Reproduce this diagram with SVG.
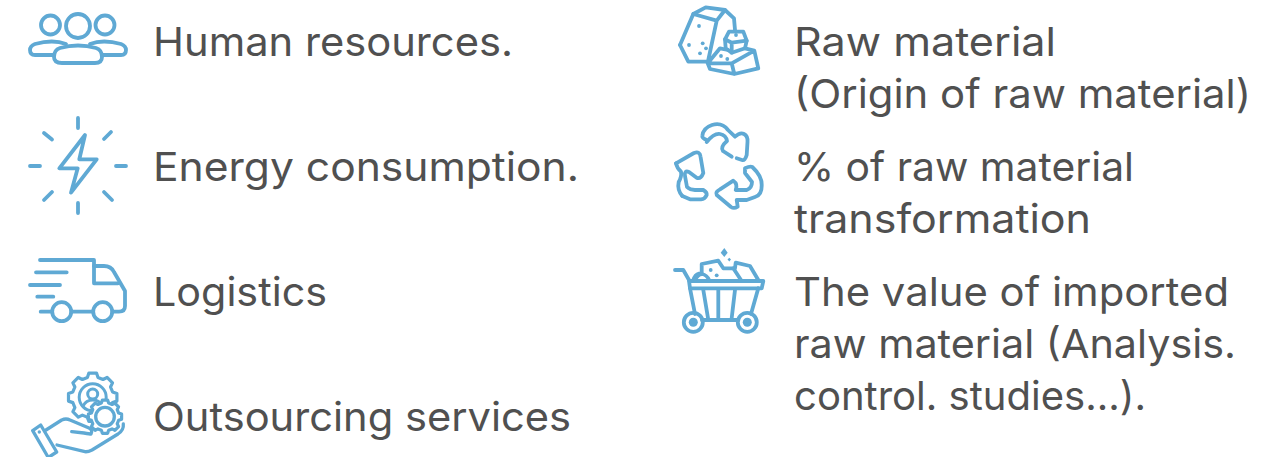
<svg xmlns="http://www.w3.org/2000/svg" width="1285" height="457" viewBox="0 0 1285 457">
<style>
text{font-family:"Inter","Noto Sans",sans-serif;font-size:40px;fill:#505050;font-weight:400}
.i{fill:none;stroke:#5fa9d4;stroke-width:3.8;stroke-linecap:round;stroke-linejoin:round}
.d{fill:#5fa9d4;stroke:none}
.g{fill:#fff;stroke:#5fa9d4;stroke-width:3.2;stroke-linejoin:round;vector-effect:non-scaling-stroke}
</style>
<defs>
<polygon id="gear" class="g" points="81.1,-21.7 98.8,-15.6 98.8,15.6 81.1,21.7 72.7,42 80.9,58.8 58.8,80.9 42,72.7 21.7,81.1 15.6,98.8 -15.6,98.8 -21.7,81.1 -42,72.7 -58.8,80.9 -80.9,58.8 -72.7,42 -81.1,21.7 -98.8,15.6 -98.8,-15.6 -81.1,-21.7 -72.7,-42 -80.9,-58.8 -58.8,-80.9 -42,-72.7 -21.7,-81.1 -15.6,-98.8 15.6,-98.8 21.7,-81.1 42,-72.7 58.8,-80.9 80.9,-58.8 72.7,-42"/>
</defs>
<rect width="1285" height="457" fill="#fff"/>
<g id="human-resources">
<g class="i">
<circle cx="50.500" cy="25" r="9.500"/><circle cx="78" cy="26" r="12"/><circle cx="105" cy="25" r="9.500"/>
<path d="M66 44Q53 39 35 44Q30 46 30 50Q30 55 35 55H54"/>
<path d="M90 44Q103 39 121 44Q126 46 126 50Q126 55 121 55H102"/>
<path d="M62 63H95Q102 63 102 57Q102 50 96 48Q78 43 60 48Q54 50 54 57Q54 63 62 63Z"/>
</g>
<text x="153" y="56" textLength="360" lengthAdjust="spacingAndGlyphs">Human resources.</text>
</g>
<g id="energy-consumption">
<path class="i" d="M85 135L59.300 168.300H77.700L71 192.700L96.700 159.300H79.300Z"/>
<path class="i" d="M78 118V128M78 203V213M30 166H40M116 166H126M44 133L52 139.500M111 132L104 139M52 192L44 200M104 192L112 200"/>
<text x="153" y="181" textLength="426" lengthAdjust="spacingAndGlyphs">Energy consumption.</text>
</g>
<g id="logistics">
<g class="i">
<path d="M40 260H94V283.300H118"/>
<path d="M94 266H104Q111 266 114 272L125 291V306Q125 311.700 119 311.700H112.500"/>
<circle cx="61.700" cy="311.700" r="9.500"/><circle cx="102.700" cy="311.700" r="9.500"/>
<path d="M71.500 311.700H93M40.700 311.700H52M36 272.300H66.700M30 285H60M37.300 296.700H53.300"/>
</g>
<text x="153" y="306" textLength="174" lengthAdjust="spacingAndGlyphs">Logistics</text>
</g>
<g id="outsourcing-services">
<use href="#gear" transform="translate(92.700 397.300) scale(.245)"/>
<g class="i" style="stroke-width:3">
<circle cx="92.700" cy="397.300" r="13.500"/><circle cx="92.700" cy="394" r="5"/>
<path d="M83 406Q86 400 92.700 400Q99 400 102 405"/>
</g>
<use href="#gear" transform="translate(105 416.700) scale(.168)"/>
<g class="i" style="stroke-width:3.300">
<circle cx="105" cy="416.700" r="9.300"/>
<path d="M32.700 430.700L40.700 425L56.700 452L48.300 457.500Z"/>
<path d="M46 430L61.700 420Q66 418 70 420L89 428Q93 430 91 434Q90 434 84 433L71.700 431.700"/>
<path d="M57 445L85 451.700Q88 452 92 450L118 434Q124 430 123.300 424"/>
</g>
<circle class="d" cx="39.300" cy="432" r="1.700"/>
<text x="153" y="431" textLength="418" lengthAdjust="spacingAndGlyphs">Outsourcing services</text>
</g>
<g id="raw-material">
<g class="i">
<path d="M680 45L693.300 14L705.700 7.300L725 10L734 18.300L735 30"/>
<path d="M680 45L688.300 61.700H707"/>
<path d="M693.300 14L716.700 20.700L725 10M716.700 20.700L708.300 60"/>
<path d="M725 39.300L729 31.700H743.300L746.700 40.700L745 48.300L731.700 52.700L725.700 48.300Z"/>
<path d="M725 39.300L731.700 42.700L746.700 40.700M731.700 42.700V52.700"/>
<path d="M707.700 63.300L720 48.300L728 50M745 48.300L754.300 50.700L758.300 68.300L734.300 74L710 69L707.700 63.300H731.700L754.300 50.700M731.700 63.300L734.300 74"/>
</g>
<g class="d">
<circle cx="699" cy="26" r="1.900"/><circle cx="689" cy="45" r="1.900"/><circle cx="702.700" cy="43.300" r="1.900"/><circle cx="706" cy="48.300" r="1.900"/><circle cx="700" cy="53.300" r="1.900"/><circle cx="721" cy="56" r="1.900"/><circle cx="727.300" cy="59" r="1.900"/><circle cx="736" cy="35" r="1.900"/>
</g>
<text x="794" y="56" textLength="262" lengthAdjust="spacingAndGlyphs">Raw material</text>
<text x="794" y="108" textLength="457" lengthAdjust="spacingAndGlyphs">(Origin of raw material)</text>
</g>
<g id="transformation">
<g class="i">
<path d="M706.700 140Q702 138 702.300 136Q703 128 712 125Q722 122 728 130L735 136.700Q740 132 744 134Q748 136 747.500 142L746.700 155Q745 161 742 160L736.700 158.300"/>
<path d="M706.700 142Q714 133 720 134Q726 135 727 141Q720 147 723 151L731.700 156.700"/>
<path d="M676 163.300L694 153Q700 151 700.500 156.500L703.300 173Q701 179 697 178L689 172Q684 170 685 176L687 187Q690 190 695 190H703.300Q707 192 706.700 195Q705 199 701 199.300H690L682.300 196"/>
<path d="M676 163.300Q677 168 681 171.700Q682 176 678.700 182Q677 190 682.300 196"/>
<path d="M745 168.300Q750 166 752.300 167Q762 176 761.700 185Q762 195 755 197L746.700 200H736.700L737.700 206.700Q734 209 731 207L716.700 195Q715 192 720 189.300L733.300 180.700Q738 184 735.700 190H746.700Q752 188 752 182L745 173Z"/>
</g>
<text x="794" y="181" textLength="340" lengthAdjust="spacingAndGlyphs">% of raw material</text>
<text x="794" y="233" textLength="297" lengthAdjust="spacingAndGlyphs">transformation</text>
</g>
<g id="imported-raw-material">
<g class="i">
<path d="M675 270H683.300L690 281.700"/>
<path d="M689 281H763.300L761.700 288.300H690Z"/>
<path d="M690 288.300L695 314M758.300 288.300L751 314M703.300 290L708 318M718.300 290V318M735 290L731.700 318M702 320H738"/>
<path d="M693.300 280Q695 274.500 699 273.500L701.700 273L701.700 264L718.300 260.700L723.300 268.300H735L735.700 262.700L750 266L758.300 280"/>
<path d="M695 280Q698 274 702 274Q707 275 709 280M741 280L733.300 268.300"/>
<circle cx="693.300" cy="322.300" r="9.500"/><circle cx="747.300" cy="322.300" r="9.500"/>
</g>
<g class="d">
<circle cx="693.300" cy="322.300" r="4.500"/><circle cx="747.300" cy="322.300" r="4.500"/>
<circle cx="710.700" cy="270" r="1.900"/><circle cx="716.700" cy="275.300" r="1.900"/>
<polygon points="724.300,248 727.700,252.700 724.300,257 720.700,252.700"/><polygon points="729.300,257.700 731,259.500 729.300,261.500 727.500,259.500"/>
</g>
<text x="794" y="306" textLength="435" lengthAdjust="spacingAndGlyphs">The value of imported</text>
<text x="794" y="358" textLength="442" lengthAdjust="spacingAndGlyphs">raw material (Analysis.</text>
<text x="794" y="410" textLength="352" lengthAdjust="spacingAndGlyphs">control. studies...).</text>
</g>
</svg>
